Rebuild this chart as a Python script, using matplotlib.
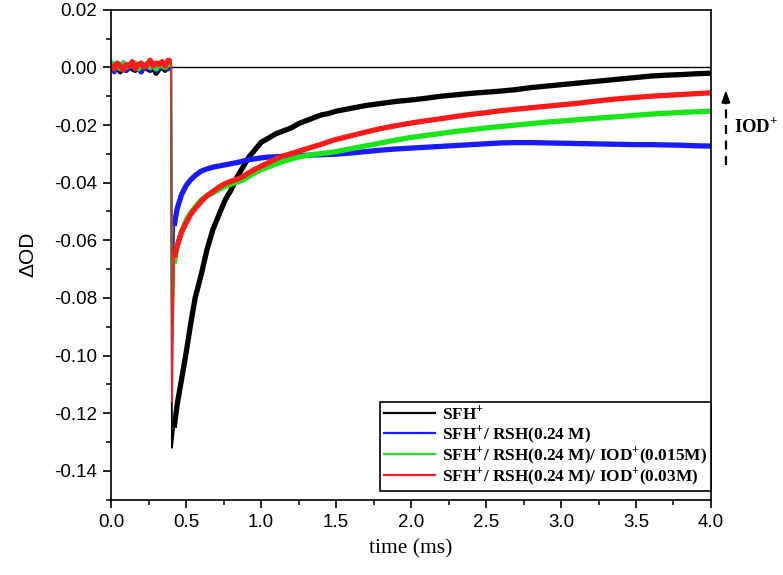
import matplotlib
matplotlib.use("Agg")
import matplotlib.pyplot as plt
from matplotlib.lines import Line2D

plt.rcParams['mathtext.fontset'] = 'custom'
plt.rcParams['mathtext.rm'] = 'Liberation Serif'
plt.rcParams['mathtext.bf'] = 'Liberation Serif:bold'

# ---------------- data ----------------
time_pre = [0.00, 0.02, 0.04, 0.06, 0.08, 0.10, 0.12, 0.14, 0.16, 0.18, 0.20,
            0.22, 0.24, 0.26, 0.28, 0.30, 0.32, 0.34, 0.36, 0.38, 0.40]
time_post = [0.405, 0.42, 0.44, 0.47, 0.50, 0.53, 0.56, 0.60, 0.64, 0.68, 0.72,
             0.76, 0.80, 0.84, 0.88, 0.92, 0.96, 1.00,
             1.05, 1.10, 1.15, 1.20, 1.25, 1.30, 1.35, 1.40, 1.45, 1.50,
             1.6, 1.7, 1.8, 1.9, 2.0, 2.1, 2.2, 2.3, 2.4, 2.5, 2.6, 2.7, 2.8,
             2.9, 3.0, 3.1, 3.2, 3.3, 3.4, 3.5, 3.6, 3.7, 3.8, 3.9, 4.0]

sfh_pre = [0.000, -0.001, 0.0005, -0.0015, 0.000, -0.001, 0.0005, -0.0005, -0.001, 0.000,
           -0.0015, 0.0005, -0.0005, -0.001, 0.000, -0.002, -0.0005, 0.000, -0.001, 0.0005, 0.001]
sfh_post = [-0.132, -0.125, -0.117, -0.108, -0.099, -0.089, -0.080, -0.072, -0.063, -0.056, -0.051,
            -0.046, -0.0425, -0.038, -0.0345, -0.031, -0.0285, -0.026,
            -0.0245, -0.023, -0.022, -0.021, -0.0195, -0.0185, -0.0175, -0.0165, -0.016, -0.0152,
            -0.0142, -0.0132, -0.0125, -0.0118, -0.0113, -0.0107, -0.0100, -0.0095, -0.0090,
            -0.0086, -0.0082, -0.0077, -0.0070, -0.0065, -0.0060, -0.0055, -0.0050, -0.0045,
            -0.0040, -0.0035, -0.0030, -0.0027, -0.0025, -0.0022, -0.0020]

rsh_pre = [0.0005, -0.0015, 0.001, -0.0005, 0.0015, -0.001, 0.000, 0.001, -0.0005, 0.0005,
           -0.0015, 0.001, 0.000, -0.0005, 0.001, -0.001, 0.0005, 0.000, 0.001, -0.0005, 0.0005]
rsh_post = [-0.090, -0.055, -0.049, -0.044, -0.041, -0.039, -0.0375, -0.036, -0.0352, -0.0346, -0.0342,
            -0.0338, -0.0334, -0.033, -0.0325, -0.032, -0.0317, -0.0314,
            -0.0311, -0.031, -0.0308, -0.0306, -0.0305, -0.0305, -0.0304, -0.0303, -0.0302, -0.0301,
            -0.0297, -0.0292, -0.0287, -0.0283, -0.0280, -0.0277, -0.0274, -0.0271, -0.0268,
            -0.0265, -0.0262, -0.0261, -0.0261, -0.0262, -0.0263, -0.0264, -0.0265, -0.0266,
            -0.0267, -0.0268, -0.0268, -0.0269, -0.0270, -0.0272, -0.0273]

iod015_pre = [0.002, 0.0005, 0.001, -0.0005, 0.0015, 0.000, 0.001, 0.0005, 0.0015, -0.0005,
              0.001, 0.0005, 0.0015, 0.000, 0.001, -0.0005, 0.0015, 0.0005, 0.000, 0.001, 0.001]
iod015_post = [-0.100, -0.068, -0.062, -0.057, -0.053, -0.0505, -0.0485, -0.046, -0.0445, -0.0435, -0.0423,
               -0.0413, -0.0405, -0.0398, -0.039, -0.0378, -0.0365, -0.0355,
               -0.0345, -0.0335, -0.0326, -0.0318, -0.0311, -0.0306, -0.0302, -0.0299, -0.0296, -0.0292,
               -0.0282, -0.0272, -0.0262, -0.0252, -0.0243, -0.0236, -0.0229, -0.0222, -0.0216,
               -0.0210, -0.0205, -0.0200, -0.0195, -0.0190, -0.0186, -0.0182, -0.0178, -0.0174,
               -0.0170, -0.0166, -0.0162, -0.0159, -0.0156, -0.0154, -0.0152]

iod03_pre = [0.001, -0.0005, 0.0015, 0.0005, -0.001, 0.001, 0.0005, 0.002, -0.0005, 0.001,
             0.0015, 0.000, 0.001, 0.0025, 0.0005, 0.0015, 0.001, 0.002, 0.0005, 0.0025, 0.002]
iod03_post = [-0.116, -0.066, -0.062, -0.057, -0.054, -0.051, -0.049, -0.0465, -0.0445, -0.043, -0.0415,
              -0.0403, -0.0395, -0.0388, -0.0378, -0.0365, -0.0353, -0.0343,
              -0.033, -0.0317, -0.0307, -0.0299, -0.0291, -0.0283, -0.0275, -0.0267, -0.0258, -0.025,
              -0.0237, -0.0224, -0.0212, -0.0202, -0.0193, -0.0185, -0.0178, -0.0170, -0.0163,
              -0.0157, -0.0150, -0.0145, -0.0140, -0.0135, -0.0130, -0.0125, -0.0119, -0.0113,
              -0.0108, -0.0104, -0.0100, -0.0097, -0.0094, -0.0091, -0.0088]

labels = [r'SFH$^{\mathbf{+}}$',
          r'SFH$^{\mathbf{+}}$/ RSH(0.24 M)',
          r'SFH$^{\mathbf{+}}$/ RSH(0.24 M)/ IOD$^{\mathbf{+}}$(0.015M)',
          r'SFH$^{\mathbf{+}}$/ RSH(0.24 M)/ IOD$^{\mathbf{+}}$(0.03M)']
colors = ['#000000', '#1a1aff', '#19e619', '#ff1a1a']
series = [(sfh_pre, sfh_post), (rsh_pre, rsh_post),
          (iod015_pre, iod015_post), (iod03_pre, iod03_post)]

# ---------------- figure ----------------
fig = plt.figure(figsize=(7.83, 5.75), dpi=100)
ax = fig.add_axes([0.142, 0.131, 0.766, 0.852])

ax.axhline(0, color='black', lw=1.0, zorder=1)

for (pre, post), c, lab in zip(series, colors, labels):
    t = time_pre + time_post
    v = pre + post
    ax.plot(t, v, color=c, lw=1.3, label=lab, zorder=2)
    ax.plot(time_pre, pre, color=c, lw=3.8, zorder=2, solid_capstyle='butt')
    ax.plot(time_post[1:], post[1:], color=c, lw=3.8, zorder=2, solid_capstyle='butt')

ax.set_xlim(0, 4.0)
ax.set_ylim(-0.15, 0.02)
ax.set_xticks([0.0, 0.5, 1.0, 1.5, 2.0, 2.5, 3.0, 3.5, 4.0])
ax.set_xticks([0.25, 0.75, 1.25, 1.75, 2.25, 2.75, 3.25, 3.75], minor=True)
ax.set_yticks([0.02, 0.00, -0.02, -0.04, -0.06, -0.08, -0.10, -0.12, -0.14])
ax.set_yticks([0.01, -0.01, -0.03, -0.05, -0.07, -0.09, -0.11, -0.13, -0.15], minor=True)
ax.xaxis.set_major_formatter(matplotlib.ticker.FormatStrFormatter('%.1f'))
ax.yaxis.set_major_formatter(matplotlib.ticker.FormatStrFormatter('%.2f'))

ax.tick_params(which='major', direction='out', length=6, width=1.2,
               labelsize=13.5, top=False, right=False, pad=4)
ax.tick_params(which='minor', direction='out', length=3.5, width=1.1,
               top=False, right=False)
for lab in ax.get_xticklabels() + ax.get_yticklabels():
    lab.set_fontfamily('Liberation Sans')
for sp in ax.spines.values():
    sp.set_linewidth(1.2)

ax.set_xlabel('time (ms)', fontfamily='Liberation Serif', fontsize=15.5, labelpad=6)
ax.set_ylabel('ΔOD', fontfamily='Liberation Sans', fontsize=15, labelpad=12)

leg = ax.legend(loc='lower right', bbox_to_anchor=(1.0, 0.018), borderaxespad=0,
                prop={'family': 'Liberation Serif', 'weight': 'bold', 'size': 12.4},
                frameon=True, fancybox=False, edgecolor='black', framealpha=1,
                handlelength=3.0, handletextpad=0.4, labelspacing=0.0,
                borderpad=0.22)
leg.get_frame().set_linewidth(1.2)
for h in leg.get_lines():
    h.set_linewidth(1.6)

# IOD+ arrow annotation (outside the axes, on the right)
fig.add_artist(Line2D([0.927, 0.927], [0.713, 0.82], transform=fig.transFigure,
                      color='black', lw=1.6, ls=(0, (4, 3))))
ax.annotate('', xy=(0.927, 0.848), xytext=(0.927, 0.815),
            xycoords='figure fraction', textcoords='figure fraction',
            arrowprops=dict(arrowstyle='-|>,head_length=0.7,head_width=0.25',
                            color='black', lw=1.4), annotation_clip=False)
fig.text(0.937, 0.779, r'IOD$^{\mathbf{+}}$', fontfamily='Liberation Serif',
         fontweight='bold', fontsize=13.5, ha='left', va='center')

fig.savefig('out.png', dpi=100)
